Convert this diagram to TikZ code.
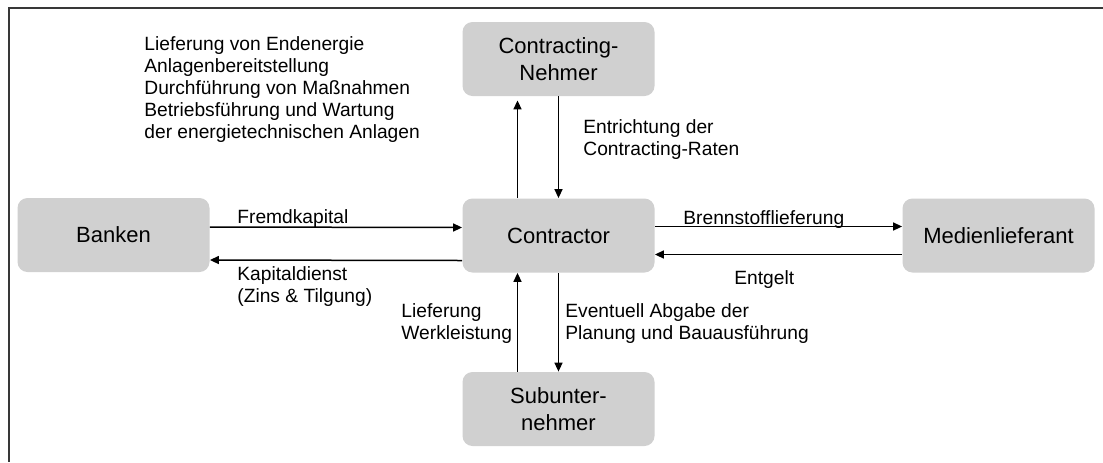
\documentclass[tikz,border=0pt]{standalone}
\usepackage{fontspec}
\setmainfont{Liberation Sans}
\usepackage{tikz}
\usetikzlibrary{arrows.meta,calc}
\definecolor{boxgray}{HTML}{D0D0D0}
\definecolor{framegray}{HTML}{383838}

\begin{document}
\begin{tikzpicture}[x=0.5pt,y=-0.5pt,
    party/.style={fill=boxgray,rounded corners=5pt,minimum width=96pt,minimum height=37pt,inner sep=0pt,align=center,font=\fontsize{11}{13.5}\selectfont},
    lbl/.style={anchor=north west,inner sep=0pt,align=left,font=\fontsize{9.6}{11}\selectfont},
    flow/.style={line width=0.75pt,-{Triangle[length=4.5pt,width=4pt]}}]
        \useasboundingbox (0,0) rectangle (1103,462);
        \draw[framegray,line width=1pt] (1103,8)--(9,8)--(9,462);
        \node[party] (nehmer) at (558.5,59) {Contracting-\\Nehmer};
        \node[party] (banken) at (113.5,235) {Banken};
        \node[party] (contractor) at (558.5,235.5) {Contractor};
        \node[party] (medien) at (998.5,235.5) {Medienlieferant};
        \node[party] (sub) at (558.5,409) {Subunter-\\nehmer};
        \node[lbl] (leistungen) at (144,34.6) {\strut Lieferung von Endenergie\\Anlagenbereitstellung\\Durchführung von Maßnahmen\\Betriebsführung und Wartung\\der energietechnischen Anlagen};
        \node[lbl] (raten) at (583,117.6) {\strut Entrichtung der\\Contracting-Raten};
        \node[lbl] (fremd) at (237,207.6) {\strut Fremdkapital};
        \node[lbl] (dienst) at (237,264.6) {\strut Kapitaldienst\\(Zins \& Tilgung)};
        \node[lbl] (brenn) at (683,208.6) {\strut Brennstofflieferung};
        \node[lbl] (entgelt) at (734,268.6) {\strut Entgelt};
        \node[lbl] (werk) at (401,301.6) {\strut Lieferung\\Werkleistung};
        \node[lbl] (abgabe) at (565,301.6) {\strut Eventuell Abgabe der\\Planung und Bauausführung};
        \draw[flow,shorten >=2pt] ($(contractor.north)+(-41,0)$)--($(nehmer.south)+(-41,0)$);
        \draw[flow] (nehmer.south)--(contractor.north);
        \draw[flow] ($(banken.east)+(0,-8)$)--($(contractor.west)+(0,-8)$);
        \draw[flow] ($(contractor.west)+(0,25)$)--($(banken.east)+(0,25)$);
        \draw[flow] ($(contractor.east)+(0,-9)$)--($(medien.west)+(0,-9)$);
        \draw[flow] ($(medien.west)+(0,19)$)--($(contractor.east)+(0,19)$);
        \draw[flow] ($(sub.north)+(-41,0)$)--($(contractor.south)+(-41,0)$);
        \draw[flow] (contractor.south)--(sub.north);
      \end{tikzpicture}
\end{document}
